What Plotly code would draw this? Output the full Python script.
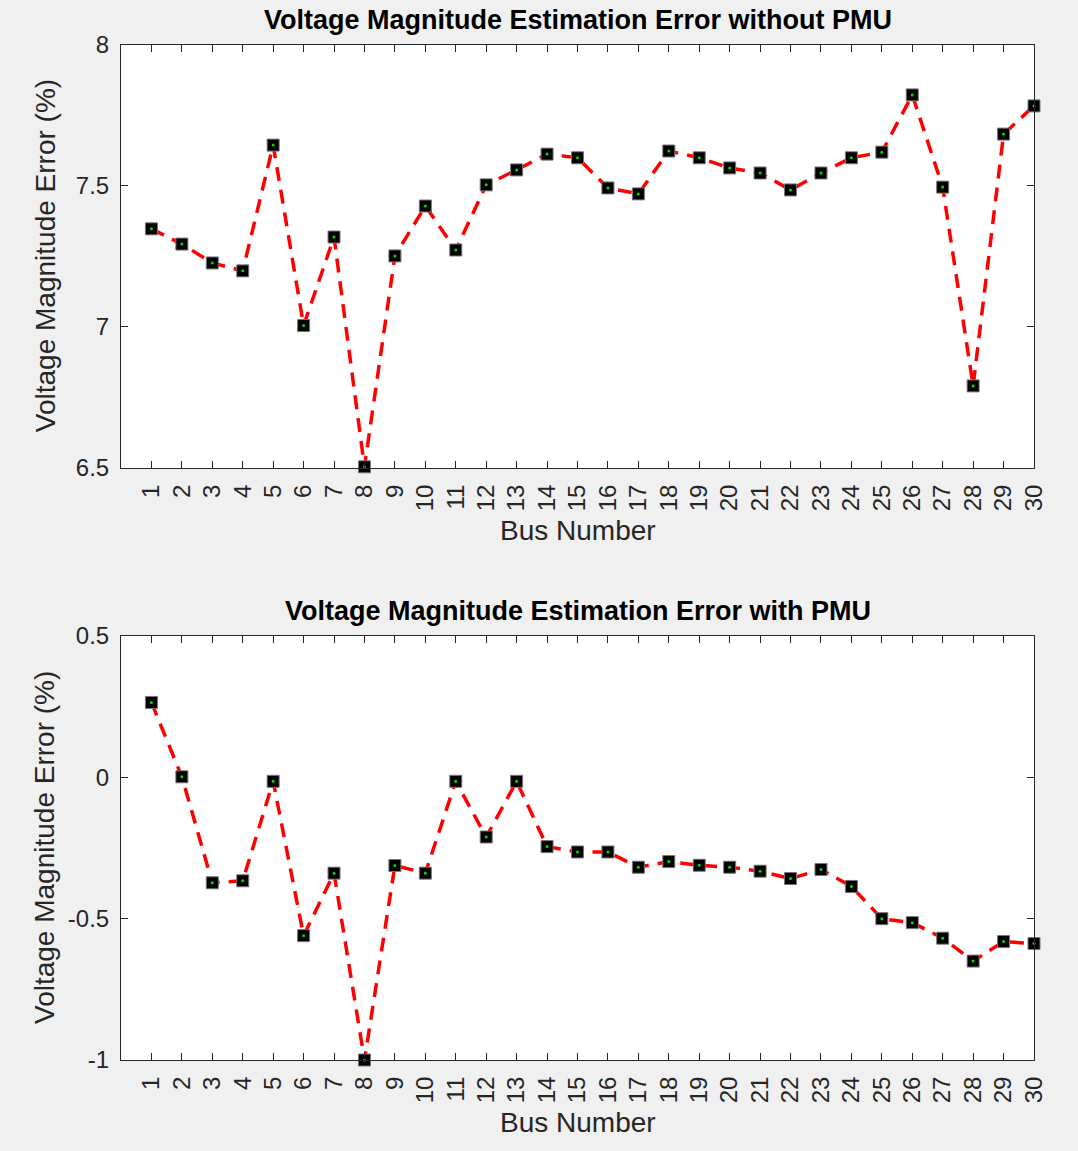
import plotly.graph_objects as go

bus = list(range(1, 31))

err_without_pmu = [7.348, 7.294, 7.227, 7.199, 7.645, 7.005, 7.319, 6.504, 7.252, 7.429,
                   7.273, 7.504, 7.557, 7.613, 7.600, 7.493, 7.472, 7.624, 7.600, 7.564,
                   7.546, 7.486, 7.546, 7.600, 7.620, 7.823, 7.496, 6.791, 7.684, 7.784]

err_with_pmu = [0.265, 0.002, -0.373, -0.366, -0.014, -0.560, -0.339, -1.000, -0.312, -0.339,
                -0.014, -0.211, -0.014, -0.245, -0.264, -0.264, -0.318, -0.298, -0.311, -0.318,
                -0.332, -0.358, -0.326, -0.386, -0.500, -0.514, -0.569, -0.650, -0.581, -0.588]

top_yticks = [6.5, 7, 7.5, 8]
top_yticktext = ["6.5", "7", "7.5", "8"]
bot_yticks = [-1, -0.5, 0, 0.5]
bot_yticktext = ["-1", "-0.5", "0", "0.5"]

titles = ["Voltage Magnitude Estimation Error without PMU",
          "Voltage Magnitude Estimation Error with PMU"]
xlabel = "Bus Number"
ylabel = "Voltage Magnitude Error (%)"

FONT = "Liberation Sans, Arial, sans-serif"
AXC = "#262626"

fig = go.Figure()

for series, xa, ya in [(err_without_pmu, "x", "y"), (err_with_pmu, "x2", "y2")]:
    fig.add_trace(go.Scatter(
        x=bus, y=series, xaxis=xa, yaxis=ya, mode="lines+markers",
        line=dict(color="#ff0000", width=3.5, dash="14px,9px"),
        marker=dict(symbol="square", size=12, color="#000000",
                    line=dict(color="#777777", width=1)),
        cliponaxis=False, showlegend=False, hoverinfo="x+y"))
    fig.add_trace(go.Scatter(
        x=bus, y=series, xaxis=xa, yaxis=ya, mode="markers",
        marker=dict(symbol="circle", size=3, color="#00dd00", line=dict(width=0)),
        cliponaxis=False, showlegend=False, hoverinfo="skip"))

axis_common = dict(showline=True, linecolor=AXC, linewidth=1, mirror="ticks",
                   ticks="inside", ticklen=7, tickcolor=AXC, tickwidth=1,
                   showgrid=False, zeroline=False,
                   tickfont=dict(family=FONT, size=24, color=AXC))

xaxis_cfg = dict(axis_common, range=[0, 30], tickvals=bus, ticktext=[str(b) for b in bus],
                 tickangle=-90, ticklabelstandoff=6)

fig.update_layout(
    width=1078, height=1151,
    margin=dict(l=121, r=44, t=45, b=91),
    paper_bgcolor="#f0f0f0", plot_bgcolor="#ffffff",
    xaxis=dict(xaxis_cfg, domain=[0, 1], anchor="y"),
    yaxis=dict(axis_common, domain=[0.5833, 1.0], range=[6.5, 8],
               tickvals=top_yticks, ticktext=top_yticktext, anchor="x",
               ticklabelstandoff=6),
    xaxis2=dict(xaxis_cfg, domain=[0, 1], anchor="y2"),
    yaxis2=dict(axis_common, domain=[0.0, 0.4177], range=[-1, 0.5],
                tickvals=bot_yticks, ticktext=bot_yticktext, anchor="x2",
                ticklabelstandoff=6),
)

ann = []
for t, yy in zip(titles, [1.0246, 0.4424]):
    ann.append(dict(text="<b>%s</b>" % t, x=0.5, y=yy, xref="paper", yref="paper",
                    showarrow=False, xanchor="center", yanchor="middle",
                    font=dict(family=FONT, size=27, color="#000000")))
for yy in [0.5212, -0.0611]:
    ann.append(dict(text=xlabel, x=0.5, y=yy, xref="paper", yref="paper",
                    showarrow=False, xanchor="center", yanchor="middle",
                    font=dict(family=FONT, size=28, color=AXC)))
for yy in [0.792, 0.2089]:
    ann.append(dict(text=ylabel, x=-0.0832, y=yy, xref="paper", yref="paper",
                    showarrow=False, xanchor="center", yanchor="middle", textangle=-90,
                    font=dict(family=FONT, size=28, color=AXC)))
fig.update_layout(annotations=ann)

fig.write_html("out.html")
